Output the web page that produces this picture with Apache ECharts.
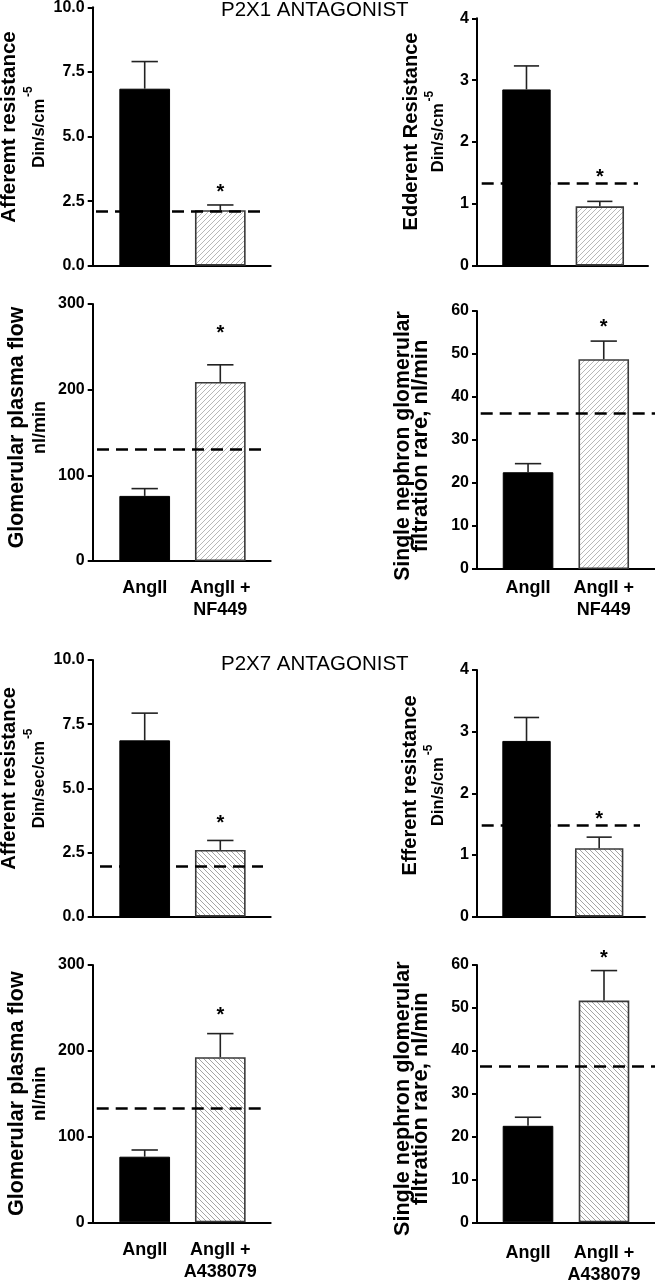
<!DOCTYPE html>
<html><head><meta charset="utf-8">
<script src="https://cdn.jsdelivr.net/npm/echarts@6/dist/echarts.min.js"></script>
<style>html,body{margin:0;padding:0;background:#fff}#c{width:655px;height:1280px}</style>
</head><body><div id="c"></div>
<script>
// ---------------- DATA ----------------
const groupTitles = ['P2X1 ANTAGONIST', 'P2X7 ANTAGONIST'];
const catsP2X1 = ['AngII', 'AngII +\nNF449'];
const catsP2X7 = ['AngII', 'AngII +\nA438079'];
const significant = [false, true];

// P2X1 antagonist (NF449)
const affP2X1Mean = [6.85, 2.15];   const affP2X1Sem = [1.05, 0.20];  const affP2X1Base = 2.1;
const effP2X1Mean = [2.85, 0.96];   const effP2X1Sem = [0.38, 0.08];  const effP2X1Base = 1.34;
const gpfP2X1Mean = [76, 209];      const gpfP2X1Sem = [8.5, 20];     const gpfP2X1Base = 130;
const sngP2X1Mean = [22.5, 48.8];   const sngP2X1Sem = [2.0, 4.2];    const sngP2X1Base = 36.3;
// P2X7 antagonist (A438079)
const affP2X7Mean = [6.87, 2.60];   const affP2X7Sem = [1.06, 0.37];  const affP2X7Base = 1.95;
const effP2X7Mean = [2.85, 1.11];   const effP2X7Sem = [0.38, 0.18];  const effP2X7Base = 1.48;
const gpfP2X7Mean = [76.5, 192.5];  const gpfP2X7Sem = [7.8, 27.5];   const gpfP2X7Base = 132.5;
const sngP2X7Mean = [22.5, 51.7];   const sngP2X7Sem = [2.0, 7.0];    const sngP2X7Base = 36.4;

// y-axis scales
const affTicks = {max: 10, interval: 2.5};
const effTicks = {max: 4, interval: 1};
const gpfTicks = {max: 300, interval: 100};
const sngTicks = {max: 60, interval: 10};

// axis titles
const affTitleP2X1 = ['Afferemt resistance', 'Din/s/cm', '-5'];
const effTitleP2X1 = ['Edderent Resistance', 'Din/s/cm', '-5'];
const affTitleP2X7 = ['Afferent resistance', 'Din/sec/cm', '-5'];
const effTitleP2X7 = ['Efferent resistance', 'Din/s/cm', '-5'];
const gpfTitle = ['Glomerular plasma flow', 'nl/min', ''];
const sngTitle = ['Single nephron glomerular', 'filtration rare, nl/min', ''];

const panelData = [
  {cats: catsP2X1, mean: affP2X1Mean, sem: affP2X1Sem, base: affP2X1Base, ticks: affTicks, title: affTitleP2X1, dec: 1, hatch: '/'},
  {cats: catsP2X1, mean: effP2X1Mean, sem: effP2X1Sem, base: effP2X1Base, ticks: effTicks, title: effTitleP2X1, dec: 0, hatch: '/'},
  {cats: catsP2X1, mean: gpfP2X1Mean, sem: gpfP2X1Sem, base: gpfP2X1Base, ticks: gpfTicks, title: gpfTitle, dec: 0, hatch: '/'},
  {cats: catsP2X1, mean: sngP2X1Mean, sem: sngP2X1Sem, base: sngP2X1Base, ticks: sngTicks, title: sngTitle, dec: 0, hatch: '/'},
  {cats: catsP2X7, mean: affP2X7Mean, sem: affP2X7Sem, base: affP2X7Base, ticks: affTicks, title: affTitleP2X7, dec: 1, hatch: '\\'},
  {cats: catsP2X7, mean: effP2X7Mean, sem: effP2X7Sem, base: effP2X7Base, ticks: effTicks, title: effTitleP2X7, dec: 0, hatch: '\\'},
  {cats: catsP2X7, mean: gpfP2X7Mean, sem: gpfP2X7Sem, base: gpfP2X7Base, ticks: gpfTicks, title: gpfTitle, dec: 0, hatch: '\\'},
  {cats: catsP2X7, mean: sngP2X7Mean, sem: sngP2X7Sem, base: sngP2X7Base, ticks: sngTicks, title: sngTitle, dec: 0, hatch: '\\'}
];

// ---------------- LAYOUT / STYLE ----------------
// frame: [left, top, width, height]; bars: [left, width]; dash: [left, width]
const layout = [
  {frame: [92.7, 7.3, 178, 258.4],  bars: [106.9, 151.2], dash: [96, 164],      barW: 50.7, nameGap: 36,   namePad: 19,  fs: [20.5, 16.5], lh: [26, 34], xLabels: false, xMargin: 0,   starGap: 16},
  {frame: [477, 18.3, 171, 247.4],  bars: [489.8, 146.7], dash: [481.7, 156.3], barW: 48.4, nameGap: 23.7, namePad: 21,  fs: [20, 16.5],   lh: [24, 30], xLabels: false, xMargin: 0,   starGap: 28},
  {frame: [92.7, 304, 178, 257],    bars: [106.9, 151.2], dash: [97, 166],      barW: 50.7, nameGap: 41.2, namePad: 10,  fs: [21.3, 18],   lh: [22, 23], xLabels: true,  xMargin: 16,  starGap: 35},
  {frame: [477, 311, 178, 258],     bars: [490.2, 151.4], dash: [480.7, 174.3], barW: 50.6, nameGap: 47,   namePad: -12, fs: [21.2, 22],   lh: [18, 18], xLabels: true,  xMargin: 8.5, starGap: 18},
  {frame: [92.7, 660, 178, 256.7],  bars: [106.9, 151.2], dash: [100, 163],     barW: 50.7, nameGap: 36,   namePad: 20,  fs: [20.2, 16.5], lh: [26, 34], xLabels: false, xMargin: 0,   starGap: 21},
  {frame: [477, 670, 168, 246.7],   bars: [490.2, 145.3], dash: [481.7, 158.3], barW: 48.4, nameGap: 22.7, namePad: 16,  fs: [20, 16.5],   lh: [24, 32], xLabels: false, xMargin: 0,   starGap: 22},
  {frame: [92.7, 965, 178, 257.3],  bars: [106.9, 151.2], dash: [96.7, 168.3],  barW: 50.7, nameGap: 41.2, namePad: 0,   fs: [21.6, 18.5], lh: [22, 23], xLabels: true,  xMargin: 17,  starGap: 22},
  {frame: [477, 965, 178, 257.3],   bars: [490, 152],     dash: [480, 175],     barW: 50.6, nameGap: 47,   namePad: -10, fs: [21.6, 22],   lh: [18, 18], xLabels: true,  xMargin: 20,  starGap: 16}
];
const titlePos = [{left: 221, top: 0}, {left: 221, top: 654}];

const FONT = '"Liberation Sans", Arial, Helvetica, sans-serif';

function hatchPattern(dir, color) {
  const s = 5;
  const c = document.createElement('canvas');
  c.width = s; c.height = s;
  const ctx = c.getContext('2d');
  ctx.fillStyle = '#ffffff';
  ctx.fillRect(0, 0, s, s);
  ctx.strokeStyle = color;
  ctx.lineWidth = 0.8;
  ctx.beginPath();
  if (dir === '/') {
    ctx.moveTo(-1, s + 1); ctx.lineTo(s + 1, -1);
    ctx.moveTo(-1, 1); ctx.lineTo(1, -1);
    ctx.moveTo(s - 1, s + 1); ctx.lineTo(s + 1, s - 1);
  } else {
    ctx.moveTo(-1, -1); ctx.lineTo(s + 1, s + 1);
    ctx.moveTo(s - 1, -1); ctx.lineTo(s + 1, 1);
    ctx.moveTo(-1, s - 1); ctx.lineTo(1, s + 1);
  }
  ctx.stroke();
  return {image: c, repeat: 'repeat'};
}

const grid = [], xAxis = [], yAxis = [], series = [];

panelData.forEach(function (p, i) {
  const L = layout[i];
  const fI = i * 3, bI = i * 3 + 1, dI = i * 3 + 2;
  const top = L.frame[1], h = L.frame[3];
  const g = {containLabel: false, outerBoundsMode: 'none'};
  grid.push(Object.assign({left: L.frame[0], top: top, width: L.frame[2], height: h}, g));
  grid.push(Object.assign({left: L.bars[0], top: top, width: L.bars[1], height: h}, g));
  grid.push(Object.assign({left: L.dash[0], top: top, width: L.dash[1], height: h}, g));

  // frame axes
  xAxis.push({gridIndex: fI, type: 'value', min: 0, max: 1,
    axisLine: {show: true, onZero: false, lineStyle: {color: '#000', width: 2}},
    axisTick: {show: false}, axisLabel: {show: false}, splitLine: {show: false}});
  const nameRich = '{a|' + p.title[0] + '}\n{b|' + p.title[1] + '}' + (p.title[2] ? '{s|' + p.title[2] + '}' : '');
  yAxis.push({gridIndex: fI, type: 'value', min: 0, max: p.ticks.max, interval: p.ticks.interval,
    axisLine: {show: true, onZero: false, lineStyle: {color: '#000', width: 2}},
    axisTick: {show: true, inside: false, length: 5, lineStyle: {color: '#000', width: 2}},
    splitLine: {show: false},
    axisLabel: {color: '#000', fontFamily: FONT, fontWeight: 'bold', fontSize: 16, margin: 8,
      formatter: function (v) { return v.toFixed(p.dec); }},
    name: nameRich, nameLocation: 'middle', nameRotate: 90, nameGap: L.nameGap,
    nameTextStyle: {
      padding: L.namePad >= 0 ? [0, 0, 0, L.namePad] : [0, -L.namePad, 0, 0],
      rich: {
        a: {fontFamily: FONT, fontWeight: 'bold', fontSize: L.fs[0], color: '#000', lineHeight: L.lh[0]},
        b: {fontFamily: FONT, fontWeight: 'bold', fontSize: L.fs[1], color: '#000', lineHeight: L.lh[1]},
        s: {fontFamily: FONT, fontWeight: 'bold', fontSize: 12, color: '#000', verticalAlign: 'top', lineHeight: 14, padding: [0, 0, 0, 2]}
      }
    }
  });

  // bar axes
  xAxis.push({gridIndex: bI, type: 'category', data: p.cats,
    axisLine: {show: false}, axisTick: {show: false}, splitLine: {show: false},
    axisLabel: {show: L.xLabels, interval: 0, color: '#000', fontFamily: FONT, fontWeight: 'bold', fontSize: 18, lineHeight: 22, margin: L.xMargin}});
  yAxis.push({gridIndex: bI, type: 'value', min: 0, max: p.ticks.max, show: false});

  // dash axes
  xAxis.push({gridIndex: dI, type: 'value', min: 0, max: 1, show: false});
  yAxis.push({gridIndex: dI, type: 'value', min: 0, max: p.ticks.max, show: false});

  const pattern = hatchPattern(p.hatch, p.hatch === '/' ? '#a6a6a6' : '#8e8e8e');
  series.push({
    type: 'bar', xAxisIndex: bI, yAxisIndex: bI, barWidth: L.barW, z: 2,
    data: p.mean.map(function (v, k) {
      return k === 0
        ? {value: v, itemStyle: {color: '#000', borderColor: '#000', borderWidth: 1}}
        : {value: v, itemStyle: {color: pattern, borderColor: '#3a3a3a', borderWidth: 1.6}};
    })
  });

  const capW = L.barW * 0.52;
  series.push({
    type: 'custom', xAxisIndex: bI, yAxisIndex: bI, z: 4,
    data: p.mean.map(function (v, k) { return [k, v, p.sem[k], significant[k] ? 1 : 0]; }),
    renderItem: function (params, api) {
      const x = api.value(0), m = api.value(1), e = api.value(2), s = api.value(3);
      const b = api.coord([x, m]);
      const t = api.coord([x, m + e]);
      const st = {stroke: '#222', lineWidth: 1.6};
      const ch = [
        {type: 'line', shape: {x1: b[0], y1: b[1], x2: t[0], y2: t[1]}, style: st},
        {type: 'line', shape: {x1: t[0] - capW / 2, y1: t[1], x2: t[0] + capW / 2, y2: t[1]}, style: st}
      ];
      if (s) {
        ch.push({type: 'text', style: {text: '*', x: t[0], y: t[1] - L.starGap + 4, align: 'center', verticalAlign: 'middle',
          font: 'bold 20px ' + FONT, fill: '#000'}});
      }
      return {type: 'group', children: ch};
    }
  });

  series.push({
    type: 'line', xAxisIndex: dI, yAxisIndex: dI, data: [], z: 6,
    markLine: {silent: true, symbol: ['none', 'none'], label: {show: false}, animation: false,
      lineStyle: {color: '#000', width: 2.5, type: [12, 7]},
      data: [{yAxis: p.base}]}
  });
});

const chart = echarts.init(document.getElementById('c'), null, {renderer: 'canvas'});
chart.setOption({
  animation: false,
  backgroundColor: '#fff',
  title: groupTitles.map(function (t, k) {
    return {text: t, left: titlePos[k].left, top: titlePos[k].top, padding: 0,
      textStyle: {fontFamily: FONT, fontWeight: 'normal', fontSize: 20.5, color: '#000'}};
  }),
  grid: grid, xAxis: xAxis, yAxis: yAxis, series: series
});
</script>
</body></html>
